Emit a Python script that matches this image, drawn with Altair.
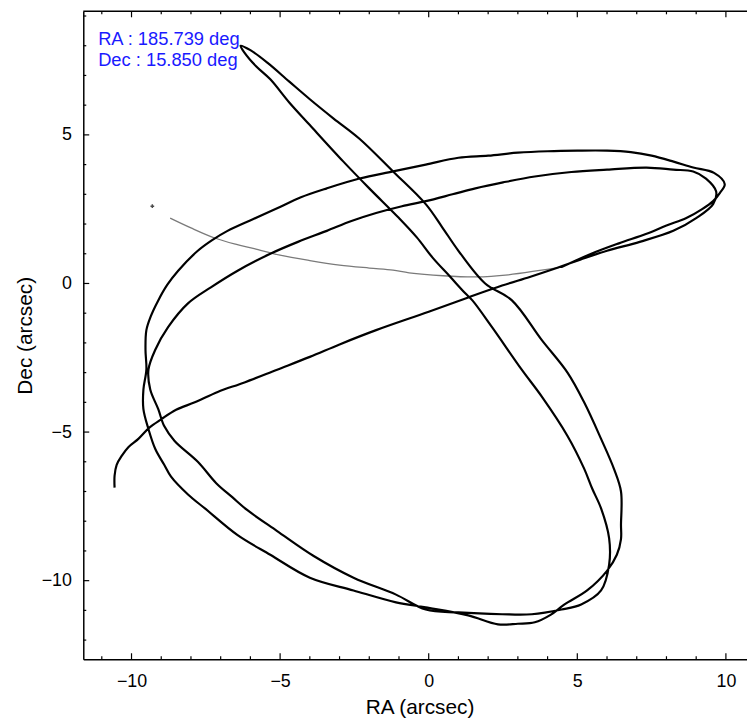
import altair as alt
import pandas as pd

# ---- data ----
gray_x = [-8.7, -8.0, -7.2, -6.5, -5.87, -5.0, -4.0, -3.0, -2.0, -1.2, -0.66, 0.48, 1.58, 2.68, 3.8, 4.47]
gray_y = [2.2, 1.87, 1.53, 1.32, 1.17, 0.95, 0.77, 0.62, 0.52, 0.45, 0.36, 0.26, 0.22, 0.29, 0.45, 0.55]

black_x = [
    4.47, 5.47, 6.4, 7.33, 8.0, 8.67, 9.2, 9.57, 9.8, 9.96,
    9.6, 8.9, 8.24, 7.5, 6.8, 6.0, 5.0, 4.0, 3.0, 2.0, 1.0, -0.1, -1.2, -2.33, -3.43,
    -4.3, -5.1, -5.9, -6.77, -7.3, -7.77, -8.43, -8.8, -9.1, -9.35, -9.5, -9.53, -9.5,
    -9.6, -9.6, -9.43, -9.2, -8.9, -8.67, -8.1, -7.53, -6.43, -5.33, -4.0, -2.53, -1.1,
    -0.1, 1.33, 2.33, 3.0, 3.57, 4.1, 4.57, 5.33, 6.0, 6.33, 6.47, 6.47, 6.47, 6.23,
    5.8, 5.23, 4.67, 3.8, 2.8, 1.9, 1.0, 0.45, -0.1, -1.2, -2.33, -3.2, -4.0, -4.7,
    -5.43, -6.0, -6.33,
    -6.2, -5.8, -5.33, -4.7, -4.0, -2.87, -2.0, -1.0, -0.4, 0.13, 0.7, 1.23, 1.47,
    2.13, 3.13, 3.8, 4.67, 5.23, 5.5, 5.8, 6.07, 6.07, 5.8, 5.13, 4.47, 3.47, 2.47,
    1.0, -0.1, -1.1, -2.53, -3.87, -5.1, -6.1, -6.6, -7.15, -7.77, -8.55, -8.9, -9.1,
    -9.37, -9.43, -9.2, -8.77, -8.1, -7.33, -6.43, -5.33, -4.4, -3.43, -2.6, -1.77,
    -0.9, -0.1, 0.8, 1.57, 2.5, 3.57, 4.8, 6.0, 7.33, 8.23, 8.9, 9.33, 9.67, 9.57,
    9.0, 8.23, 7.1, 6.0, 5.1, 4.33, 3.4, 2.47, 1.33, 0.0, -1.77, -3.0, -4.0, -5.1,
    -6.2, -7.1, -7.87, -8.5, -9.0, -9.4, -9.77, -10.1, -10.33, -10.5, -10.57, -10.57,
]
black_y = [
    0.55, 1.0, 1.35, 1.67, 1.95, 2.2, 2.5, 2.77, 3.05, 3.34,
    3.72, 3.9, 4.1, 4.3, 4.42, 4.47, 4.47, 4.45, 4.4, 4.3, 4.23, 4.0, 3.77, 3.53, 3.2,
    2.9, 2.53, 2.17, 1.77, 1.45, 1.1, 0.43, -0.05, -0.57, -1.1, -1.57, -2.23, -2.9,
    -3.57, -4.23, -4.9, -5.57, -6.1, -6.5, -7.1, -7.57, -8.47, -9.13, -9.9, -10.33, -10.73,
    -10.9, -11.17, -11.47, -11.45, -11.4, -11.15, -10.8, -10.33, -9.67, -9.13, -8.6, -8.13, -7.0, -6.23,
    -5.23, -4.0, -3.0, -1.9, -0.57, 0.0, 1.1, 1.9, 2.67, 3.77, 4.87, 5.55, 6.2, 6.8,
    7.43, 7.85, 8.0,
    7.77, 7.3, 6.87, 6.1, 5.33, 4.1, 3.2, 2.2, 1.55, 0.87, 0.25, -0.33, -0.57,
    -1.47, -2.9, -3.8, -5.13, -6.23, -6.9, -7.57, -8.57, -9.47, -10.33, -10.8, -10.97, -11.13, -11.13,
    -11.07, -10.97, -10.47, -9.9, -9.17, -8.33, -7.63, -7.2, -6.72, -6.0, -5.3, -4.8, -4.23,
    -3.57, -2.9, -2.23, -1.47, -0.67, -0.13, 0.43, 1.0, 1.4, 1.77, 2.1, 2.37,
    2.6, 2.77, 3.0, 3.2, 3.4, 3.6, 3.75, 3.83, 3.9, 3.83, 3.77, 3.53, 3.1, 2.67,
    2.2, 1.77, 1.4, 1.1, 0.8, 0.53, 0.22, -0.07, -0.47, -0.95, -1.57, -2.05, -2.47, -2.9,
    -3.33, -3.65, -4.0, -4.25, -4.57, -4.85, -5.23, -5.5, -5.8, -6.1, -6.47, -6.87,
]

marker_x = [-9.3]
marker_y = [2.6]

info_lines = ["RA : 185.739 deg", "Dec : 15.850 deg"]

x_major = [-10, -5, 0, 5, 10]
x_minor = [v for v in range(-11, 11) if v % 5 != 0]
y_major = [-10, -5, 0, 5]
y_minor = [v for v in range(-12, 10) if v % 5 != 0]

x_title = "RA (arcsec)"
y_title = "Dec (arcsec)"

# ---- layout ----
W, H = 670, 654
XDOM = [-11.623, 10.71]
YDOM = [-12.643, 9.157]
FONT = "Liberation Sans"

xs = alt.Scale(domain=XDOM, nice=False, zero=False)
ys = alt.Scale(domain=YDOM, nice=False, zero=False)

gray_df = pd.DataFrame({"x": gray_x, "y": gray_y, "i": range(len(gray_x))})
black_df = pd.DataFrame({"x": black_x, "y": black_y, "i": range(len(black_x))})
marker_df = pd.DataFrame({"x": marker_x, "y": marker_y})

xaxis = alt.Axis(values=x_major, ticks=False, tickSize=0, grid=False, domain=True,
                 domainColor="black", domainWidth=1.5, labelFont=FONT, labelFontSize=18,
                 labelColor="black", labelBaseline="alphabetic", labelPadding=28,
                 labelOverlap=False, labelFlush=False,
                 title=x_title, titleFont=FONT, titleFontSize=21, titleFontWeight="normal",
                 titleColor="black", titleBaseline="alphabetic", titleY=55, titleX=339.5)
yaxis = alt.Axis(values=y_major, ticks=False, tickSize=0, grid=False, domain=True,
                 domainColor="black", domainWidth=1.5, labelFont=FONT, labelFontSize=18,
                 labelColor="black", labelPadding=12, labelOverlap=False, labelFlush=False,
                 title=y_title, titleFont=FONT, titleFontSize=21, titleFontWeight="normal",
                 titleColor="black", titleBaseline="alphabetic", titleX=-52)

gray = alt.Chart(gray_df).mark_line(color="#7a7a7a", strokeWidth=1.3, interpolate="catmull-rom").encode(
    x=alt.X("x:Q", scale=xs, axis=xaxis),
    y=alt.Y("y:Q", scale=ys, axis=yaxis),
    order="i:Q",
)
black = alt.Chart(black_df).mark_line(color="black", strokeWidth=2.2, strokeJoin="round",
                                      interpolate="catmull-rom").encode(
    x=alt.X("x:Q", scale=xs),
    y=alt.Y("y:Q", scale=ys),
    order="i:Q",
)
marker = alt.Chart(marker_df).mark_point(shape="cross", filled=True, size=14, color="black").encode(
    x=alt.X("x:Q", scale=xs),
    y=alt.Y("y:Q", scale=ys),
)

def xticks(vals, y0, y1):
    return alt.Chart(pd.DataFrame({"x": vals})).mark_rule(color="black", strokeWidth=1.2).encode(
        x=alt.X("x:Q", scale=xs), y=alt.value(y0), y2=alt.value(y1))

def yticks(vals, length):
    return alt.Chart(pd.DataFrame({"y": vals})).mark_rule(color="black", strokeWidth=1.2).encode(
        y=alt.Y("y:Q", scale=ys), x=alt.value(0), x2=alt.value(length))

ticks = [
    xticks(x_major, H, H - 6), xticks(x_minor, H, H - 3),
    xticks(x_major, 0, 6), xticks(x_minor, 0, 3),
    yticks(y_major, 6), yticks(y_minor, 3),
]

frame_top = alt.Chart(pd.DataFrame({"a": [0]})).mark_rule(color="black", strokeWidth=1.5).encode(
    x=alt.value(0), x2=alt.value(W), y=alt.value(0))

info = alt.Chart(pd.DataFrame({"t": ["\n".join(info_lines)]})).mark_text(
    align="left", baseline="alphabetic", font=FONT, fontSize=18.5, color="#1a1aff",
    lineBreak="\n", lineHeight=21).encode(
    x=alt.value(15), y=alt.value(34), text="t:N")

chart = alt.layer(gray, black, marker, *ticks, frame_top, info).properties(
    width=W, height=H,
    padding={"left": 76, "top": 0, "right": 0, "bottom": 58},
    autosize=alt.AutoSizeParams(type="none"),
).configure_view(stroke=None)

chart.save("out.html", embed_options={"renderer": "svg", "actions": False})
